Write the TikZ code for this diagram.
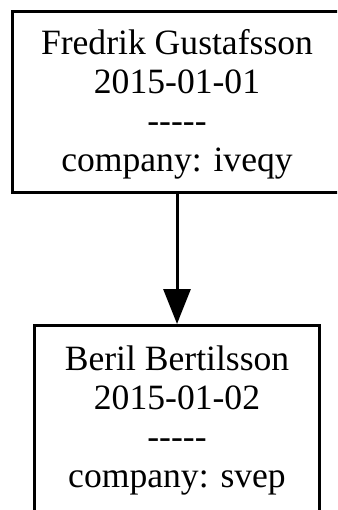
\documentclass[tikz,border=0pt]{standalone}
\usepackage{fontspec}
% Times-metric serif without TeX ligatures, so "-----" stays five hyphens
\newfontfamily\recfont{Liberation Serif}
\usetikzlibrary{arrows.meta}
% invisible extra height on the first line pushes each text block down a little
\newcommand{\toppad}{\rule{0pt}{30pt}}
\begin{document}
\begin{tikzpicture}[x=1pt,y=-1pt,
  record/.style={draw=black, line width=3pt, rectangle, inner sep=0pt,
    align=center, fill=white, font=\recfont\fontsize{35.6}{39}\selectfont},
  link/.style={line width=3pt, -{Triangle[length=35pt,width=27pt]}}]
\useasboundingbox (0,0) rectangle (337,510);
\clip (0,0) rectangle (337,510);
\node[record, minimum width=329pt, minimum height=181pt] (fredrik) at (177,101.8)
  {\toppad Fredrik Gustafsson\\2015-01-01\\-----\\company: iveqy};
\node[record, minimum width=285.5pt, minimum height=185.5pt] (beril) at (177,418.25)
  {\toppad Beril Bertilsson\\2015-01-02\\-----\\company: svep};
\draw[link] (fredrik.south) -- (beril.north);
\end{tikzpicture}
\end{document}
